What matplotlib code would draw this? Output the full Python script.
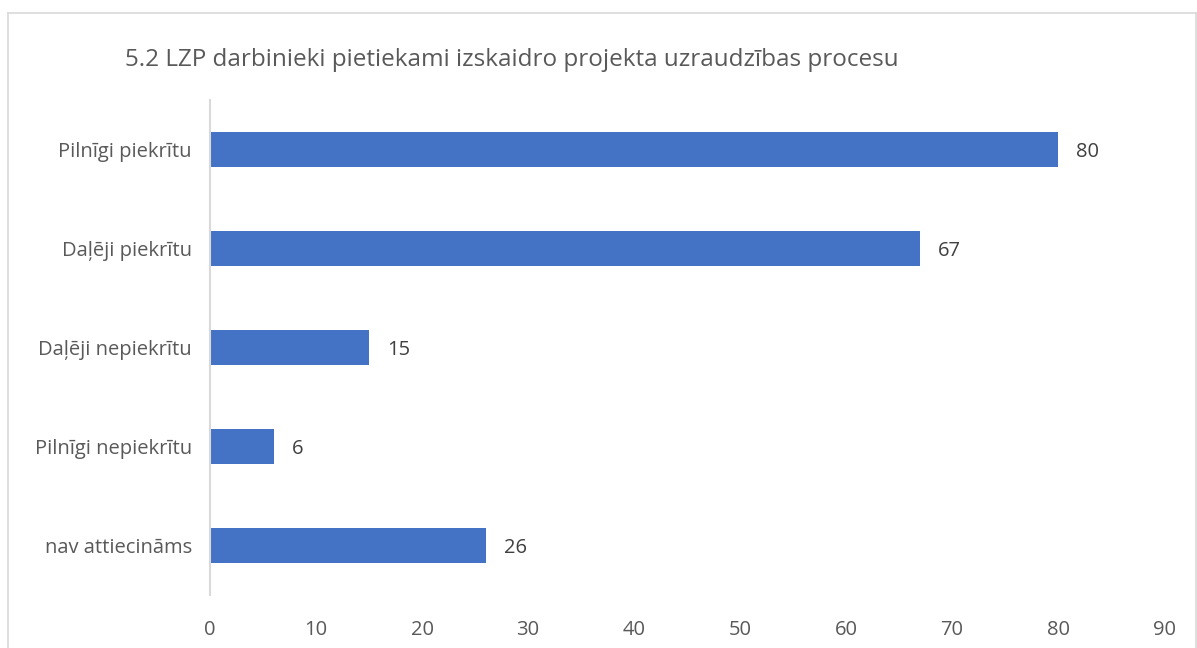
"""Horizontal bar chart: 5.2 LZP darbinieki pietiekami izskaidro projekta uzraudzības procesu."""

import matplotlib
matplotlib.use('Agg')
import matplotlib.pyplot as plt
from matplotlib.lines import Line2D

categories = ['Pilnīgi piekrītu', 'Daļēji piekrītu', 'Daļēji nepiekrītu',
              'Pilnīgi nepiekrītu', 'nav attiecināms']
values = [80, 67, 15, 6, 26]
xticks = [0, 10, 20, 30, 40, 50, 60, 70, 80, 90]
title = '5.2 LZP darbinieki pietiekami izskaidro projekta uzraudzības procesu'

plt.rcParams['font.family'] = ['Open Sans', 'DejaVu Sans']

W, H = 1197, 648
fig = plt.figure(figsize=(W / 100, H / 100), dpi=100)
ax = fig.add_axes([210 / W, 1 - 595 / H, (1164 - 210) / W, (595 - 100) / H])

pos = list(range(len(categories)))
ax.barh(pos, values, height=0.355, color='#4472C4', zorder=2)
for p, v in zip(pos, values):
    ax.annotate(str(v), (v, p), xytext=(13, -1.5), textcoords='offset points',
                va='center', ha='left', fontsize=14.5, color='#404040')

ax.set_ylim(len(categories) - 0.5, -0.5)
ax.set_xlim(0, 90)
ax.set_xticks(xticks)
ax.set_yticks(pos)
ax.set_yticklabels(categories)
ax.tick_params(axis='both', length=0, labelsize=14.5, colors='#595959')
ax.tick_params(axis='y', pad=13)
ax.tick_params(axis='x', pad=18)
for s in ['top', 'right', 'bottom']:
    ax.spines[s].set_visible(False)
ax.spines['left'].set_color('#d9d9d9')
ax.spines['left'].set_linewidth(1.5)

fig.text(512 / W, 1 - 60 / H, title, ha='center', va='center',
         fontsize=17.5, color='#595959')

# light frame around the chart area (bottom edge is cropped off)
bc = '#d9d9d9'
x0, x1, y1 = 7.5 / W, 1195.5 / W, 1 - 13 / H
fig.add_artist(Line2D([x0, x0], [0, y1], color=bc, lw=1.2))
fig.add_artist(Line2D([x0, x1], [y1, y1], color=bc, lw=1.2))
fig.add_artist(Line2D([x1, x1], [0, y1], color=bc, lw=1.2))

fig.savefig('out.png', dpi=100)
plt.close()
